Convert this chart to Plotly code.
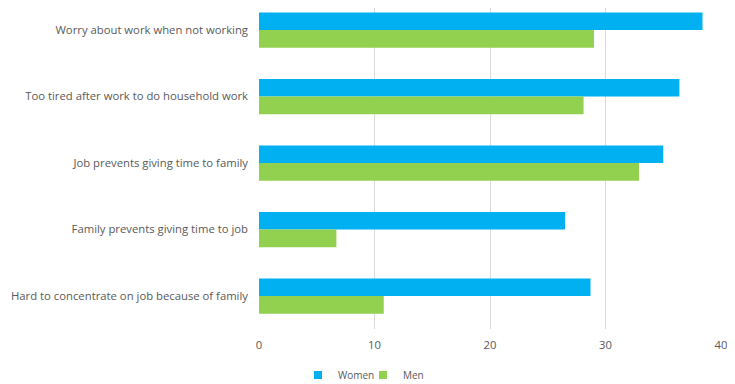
import plotly.graph_objects as go

categories = [
    "Worry about work when not working",
    "Too tired after work to do household work",
    "Job prevents giving time to family",
    "Family prevents giving time to job",
    "Hard to concentrate on job because of family",
]
women = [38.4, 36.4, 35.0, 26.5, 28.7]
men = [29.0, 28.1, 32.9, 6.7, 10.8]
x_ticks = [0, 10, 20, 30, 40]

FONT = "Open Sans"
TXT = "#595959"
C_W = "#00B0F0"
C_M = "#92D050"
FS = 11.3

fig = go.Figure()
fig.add_trace(go.Bar(y=categories, x=women, name="Women", orientation="h",
                     marker=dict(color=C_W, line=dict(width=0)), showlegend=False))
fig.add_trace(go.Bar(y=categories, x=men, name="Men", orientation="h",
                     marker=dict(color=C_M, line=dict(width=0)), showlegend=False))
# legend entries with small square swatches
for name, col in (("Women", C_W), ("Men", C_M)):
    fig.add_trace(go.Scatter(x=[None], y=[None], mode="markers", name=name,
                             marker=dict(symbol="square", size=8, color=col),
                             showlegend=True, hoverinfo="skip"))

fig.update_layout(
    width=727, height=376,
    margin=dict(l=251, r=14, t=0, b=55, autoexpand=False),
    barmode="group", bargap=0.47, bargroupgap=0,
    plot_bgcolor="white", paper_bgcolor="white",
    font=dict(family=FONT, size=FS, color=TXT),
    xaxis=dict(range=[0, 40], tickvals=x_ticks, showgrid=True, gridcolor="#D9D9D9",
               gridwidth=1, zeroline=False, showline=False, ticks="", automargin=False,
               tickfont=dict(family=FONT, size=FS, color=TXT), ticklabelstandoff=8),
    yaxis=dict(type="category", categoryorder="array", categoryarray=categories,
               range=[4.496, -0.331], showgrid=False, zeroline=False, showline=False,
               ticks="", automargin=False, tickfont=dict(family=FONT, size=FS, color=TXT),
               ticklabelstandoff=10),
    legend=dict(orientation="h", x=0.0844, xanchor="left", y=-0.143, yanchor="middle",
                font=dict(family=FONT, size=10, color=TXT), traceorder="normal",
                itemwidth=30, entrywidth=20, entrywidthmode="pixels"),
    showlegend=True,
)

fig.write_html("out.html")
